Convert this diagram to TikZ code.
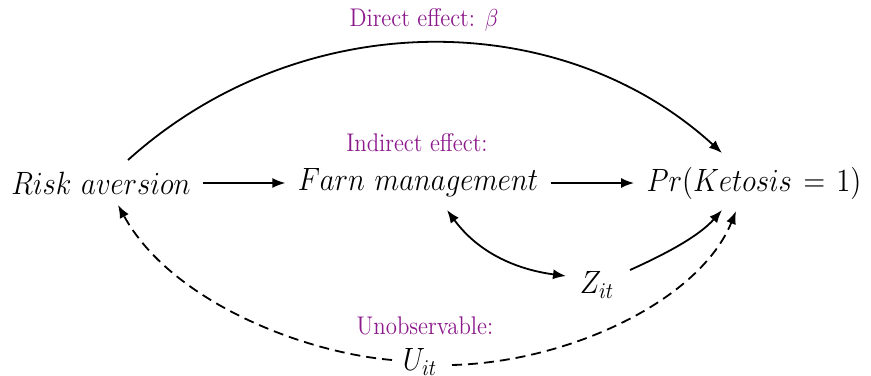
\documentclass[tikz,border=0pt]{standalone}
\usepackage{graphicx}
\usetikzlibrary{arrows.meta}
\definecolor{labcol}{RGB}{140,25,140}
\newcommand\vstretch[1]{\scalebox{1}[1.12]{#1}}
\begin{document}
\begin{tikzpicture}[x=0.5pt,y=-0.5pt,
  var/.style={inner ysep=1pt,inner xsep=6pt,font=\fontsize{14.8}{17}\selectfont},
  lab/.style={inner sep=1pt,text=labcol,font=\fontsize{11.4}{13}\selectfont},
  conn/.style={line width=0.9pt,-{Latex[length=6.5pt,width=5pt]}},
  dconn/.style={conn,dash pattern=on 5pt off 3pt}]
\useasboundingbox (0,0) rectangle (871,375);
\node[var] (ra) at (101,183) {\vstretch{$Risk\ aversion$}};
\node[var] (fm) at (418,183) {\vstretch{$Farn\ management$}};
\node[var] (pr) at (754,183) {\vstretch{$Pr(Ketosis\mskip2mu=\mskip2mu1)$}};
\node[var] (z) at (597,285) {\vstretch{$Z_{it}$}};
\node[var] (u) at (420,362) {\vstretch{$U_{it}$}};
\node[lab] (ld) at (424,20) {\vstretch{Direct effect: $\beta$}};
\node[lab] (li) at (417,143) {\vstretch{Indirect effect:}};
\node[lab] (lu) at (425,326) {\vstretch{Unobservable:}};
\coordinate (a1) at (128,160);
\coordinate (a2) at (722,153);
\coordinate (b1) at (447,210);
\coordinate (b2) at (566,276);
\coordinate (c1) at (630,270);
\coordinate (c2) at (722,210);
\coordinate (d1) at (392,360);
\coordinate (d2) at (118,205);
\coordinate (e1) at (452,365);
\coordinate (e2) at (736,211);
\draw[conn] (ra) -- (fm);
\draw[conn] (fm) -- (pr);
\draw[conn] (a1) .. controls (300,5) and (560,5) .. (a2);
\draw[conn,{Latex[length=6.5pt,width=5pt]}-{Latex[length=6.5pt,width=5pt]}] (b1) .. controls (480,255) and (520,270) .. (b2);
\draw[conn] (c1) .. controls (670,252) and (700,235) .. (c2);
\draw[dconn] (d1) .. controls (300,352) and (170,300) .. (d2);
\draw[dconn] (e1) .. controls (570,362) and (700,300) .. (e2);
\end{tikzpicture}
\end{document}
